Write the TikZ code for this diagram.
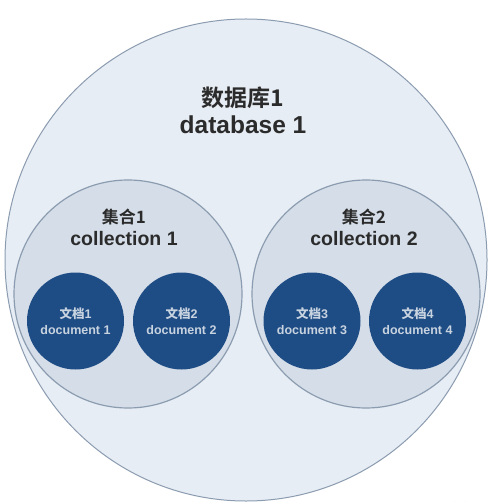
\documentclass[tikz,border=0pt]{standalone}
\usepackage{fontspec}
\setmainfont{Liberation Sans}[BoldFont={Liberation Sans Bold}]
\newfontfamily\cjk{Noto Sans CJK SC Bold}
\usepackage{xcolor}
\usetikzlibrary{positioning}
\definecolor{dbfill}{HTML}{E7EDF4}
\definecolor{colfill}{HTML}{D5DEE8}
\definecolor{ringline}{HTML}{8C9CB0}
\definecolor{docfill}{HTML}{1E4C85}
\definecolor{doctext}{HTML}{C8D3E0}
\definecolor{labeltext}{HTML}{2B2B2B}

\begin{document}
\begin{tikzpicture}[x=1pt,y=-1pt]
			\tikzstyle{every node}=[font=\bfseries]
			\tikzstyle{ring}=[circle, draw=ringline, line width=1pt, inner sep=0pt]
			\tikzstyle{doc}=[circle, fill=docfill, inner sep=0pt, minimum size=97pt, text=doctext, align=center, font=\fontsize{12.5}{15.5}\selectfont\bfseries]
			\tikzstyle{title}=[text=labeltext, anchor=base]
			\useasboundingbox [fill=white] (0,0) rectangle (499,502);
			% outer database
			\node [ring, fill=dbfill, minimum size=482pt] (db) at (246,260) {};
			\node [title, font=\fontsize{23}{28}\selectfont\cjk] (dbzh) at (243,107) {数据库1};
			\node [title, font=\fontsize{24.5}{28}\selectfont\bfseries] (dben) at (243,134) {database 1};
			% collections
			\node [ring, fill=colfill, line width=1.2pt, minimum size=228pt] (col1) at (128,294) {};
			\node [ring, fill=colfill, line width=1.2pt, minimum size=228pt] (col2) at (366,294) {};
			\node [title, font=\fontsize{17}{22}\selectfont\cjk] (col1zh) at (124,223) {集合1};
			\node [title, font=\fontsize{19.5}{23}\selectfont\bfseries] (col1en) at (124,245) {collection 1};
			\node [title, font=\fontsize{17}{22}\selectfont\cjk] (col2zh) at (364,223) {集合2};
			\node [title, font=\fontsize{19.5}{23}\selectfont\bfseries] (col2en) at (364,245) {collection 2};
			% documents
			\node [doc] (doc1) at (75.5,321) {{\cjk 文档}1\\document 1};
			\node [doc] (doc2) at (181.5,321) {{\cjk 文档}2\\document 2};
			\node [doc] (doc3) at (312,321) {{\cjk 文档}3\\document 3};
			\node [doc] (doc4) at (417.5,321) {{\cjk 文档}4\\document 4};
			% small mark in the corner
			\draw [gray, line width=0.8pt] (454,502) arc (180:0:6);
\end{tikzpicture}
\end{document}
